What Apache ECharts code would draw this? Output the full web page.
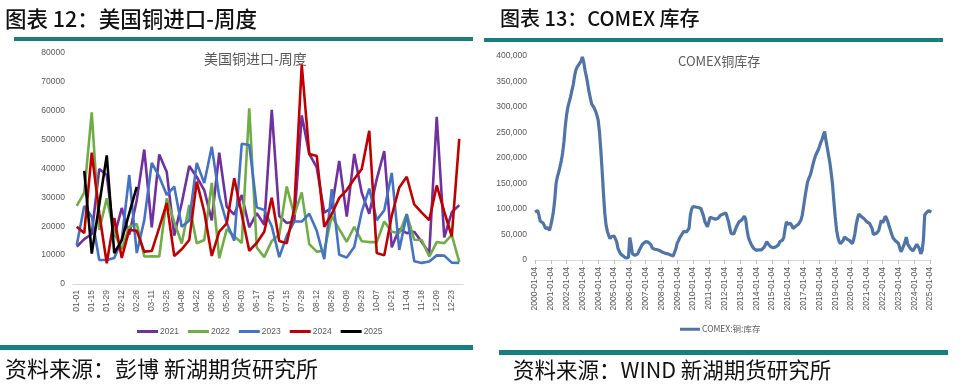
<!DOCTYPE html>
<html>
<head>
<meta charset="utf-8">
<script src="https://cdn.jsdelivr.net/npm/echarts@6/dist/echarts.min.js"></script>
<style>html,body{margin:0;padding:0;background:#fff}#c{width:960px;height:387px}</style>
</head>
<body>
<div id="c"></div>
<script>
// ---- Chart 12: US copper imports, weekly ----
var weeks = ['01-01','01-08','01-15','01-22','01-29','02-05','02-12','02-19','02-26','03-04','03-11','03-18','03-25','04-01','04-08','04-15','04-22','04-29','05-06','05-13','05-20','05-27','06-03','06-10','06-17','06-24','07-01','07-08','07-15','07-22','07-29','08-05','08-12','08-19','08-26','09-02','09-09','09-16','09-23','09-30','10-07','10-14','10-21','10-28','11-04','11-11','11-18','11-25','12-09','12-16','12-23','12-30'];
var y2021 = [12900,15500,17300,39800,37700,16400,26300,17000,29000,46500,19600,44800,38700,16700,28000,40800,37000,32500,22000,45400,26700,24000,30800,19600,24500,20500,60200,23500,21100,21600,58300,45000,40300,24700,26300,42600,23300,45000,31500,24300,36300,46000,12700,19000,17600,18100,14500,10700,57800,16100,24800,27300];
var y2022 = [27000,31600,59400,18700,29600,17600,12000,19800,20800,9500,9600,9500,29600,21500,14000,27300,14100,15200,35000,8900,19000,16500,14200,60800,12600,9300,14900,17000,33700,23900,31700,13800,11200,11500,23500,19000,14600,19800,14800,14500,14500,21600,18100,17600,24200,15300,15200,9500,14500,14100,17000,7600];
var y2023 = [13500,27000,23300,8300,8300,9000,15200,37700,10700,22000,41900,37100,30800,33700,19800,22000,41900,34900,47500,30200,21100,15000,48500,48100,26500,25600,20000,9300,16700,21600,21600,24300,18400,8600,32800,10100,9200,12800,25000,33000,22100,25500,38400,11800,24100,7900,7300,7800,9900,9800,7400,7300];
var y2024 = [19800,17600,45400,24500,7200,22800,9000,18700,18400,11200,11400,19500,28000,9700,12000,15200,35400,25000,9700,18100,21000,36600,24000,11500,14200,18100,29800,14900,14100,26000,75800,45000,44300,19800,24200,29800,32500,36300,39800,53000,10700,9900,23600,33400,37100,27500,24700,22100,34100,25000,16500,50200];
var y2025 = [null,39100,10500,27500,44500,10700,15200,24500,33600];
var yearNames = ['2021','2022','2023','2024','2025'];

// ---- Chart 13: COMEX copper inventory (monthly readings) ----
var comexYears = [];
for (var yr = 2000; yr <= 2025; yr++) comexYears.push(String(yr));
var months = [];
comexYears.forEach(function (yy) {
  for (var m = 1; m <= 12; m++) {
    if (yy === '2025' && m > 2) break;
    months.push(yy + '-' + (m < 10 ? '0' + m : m) + '-04');
  }
});
var comex = [
94000,96000,97000,88000,76000,75000,73000,68000,62000,62000,63000,58000,
68000,80000,95000,118000,150000,163000,172000,183000,195000,210000,232000,262000,
285000,300000,310000,320000,332000,343000,360000,372000,378000,382000,384000,390000,
398000,388000,372000,360000,346000,330000,318000,306000,302000,298000,292000,284000,
274000,250000,215000,175000,130000,92000,68000,56000,48000,42000,46000,48000,
47000,42000,36000,23000,17000,12000,10000,8000,6000,4000,3000,5000,
44000,30000,12000,10000,9000,7000,12000,18000,23000,28000,32000,34000,
36000,36000,35000,33000,30000,24000,22000,21000,21000,20000,19000,18000,
17000,15000,14000,13000,13000,12000,11000,10000,7000,8000,10000,22000,
33000,38000,44000,48000,52000,56000,58000,55000,56000,62000,88000,100000,
105000,104000,104000,103000,103000,102000,101000,98000,86000,75000,70000,65000,
68000,84000,84000,82000,80000,80000,78000,82000,85000,88000,88000,90000,
91000,92000,90000,75000,62000,52000,49000,51000,58000,65000,70000,75000,
76000,78000,78000,86000,80000,60000,45000,38000,32000,27000,23000,21000,
19000,20000,20000,19000,20000,23000,25000,30000,36000,32000,29000,26000,
23000,24000,26000,26000,23000,30000,36000,38000,39000,45000,62000,75000,
70000,68000,72000,68000,62000,64000,66000,67000,70000,72000,78000,88000,
105000,122000,138000,153000,160000,166000,175000,186000,196000,204000,210000,215000,
222000,230000,236000,245000,252000,234000,220000,205000,190000,170000,148000,115000,
85000,60000,45000,36000,32000,34000,38000,45000,42000,41000,40000,38000,
36000,32000,40000,52000,70000,82000,90000,88000,85000,83000,81000,78000,
75000,74000,72000,67000,62000,50000,47000,52000,54000,57000,60000,78000,
73000,78000,86000,82000,75000,66000,58000,50000,43000,40000,37000,35000,
33000,24000,16000,22000,28000,35000,45000,32000,27000,23000,20000,18000,
22000,24000,31000,28000,22000,12000,18000,39000,88000,92000,95000,97000,
98000,94000];

var FONT = 'Liberation Sans';
var CJK = 'Noto Sans CJK SC';
var LBL = '#595959';
var chart = echarts.init(document.getElementById('c'), null, {renderer: 'canvas'});

var colors = ['#7030a0', '#70ad47', '#4472c4', '#c00000', '#000000'];
var leftData = [y2021, y2022, y2023, y2024, y2025];
var series = leftData.map(function (d, k) {
  return {
    name: yearNames[k], type: 'line', xAxisIndex: 0, yAxisIndex: 0,
    data: d, symbol: 'none', connectNulls: false,
    lineStyle: {width: 2.6, color: colors[k]}, itemStyle: {color: colors[k]},
    z: 2 + k
  };
});
series.push({
  name: 'COMEX:铜:库存', type: 'line', xAxisIndex: 1, yAxisIndex: 1,
  data: comex, symbol: 'none',
  lineStyle: {width: 3.2, color: '#4f74a8'}, itemStyle: {color: '#4f74a8'}
});

var teal = '#17807e';
chart.setOption({
  animation: false,
  textStyle: {fontFamily: FONT},
  grid: [
    {left: 73, top: 52.7, width: 390, height: 231.3},
    {left: 535, top: 56, width: 396.3, height: 204}
  ],
  xAxis: [
    {type: 'category', gridIndex: 0, data: weeks, boundaryGap: true,
     axisLine: {lineStyle: {color: '#d9d9d9'}}, axisTick: {show: false},
     axisLabel: {interval: 1, rotate: 90, margin: 6, color: LBL, fontSize: 8.5, fontFamily: FONT}},
    {type: 'category', gridIndex: 1, data: months, boundaryGap: false,
     axisLine: {lineStyle: {color: '#d9d9d9'}},
     axisTick: {show: true, length: 4, lineStyle: {color: '#bfbfbf'},
       interval: function (i, v) { return v.slice(5, 7) === '01'; }},
     axisLabel: {rotate: 90, margin: 7, color: LBL, fontSize: 8.5, fontFamily: FONT,
       interval: function (i, v) { return v.slice(5, 7) === '01'; }}}
  ],
  yAxis: [
    {type: 'value', gridIndex: 0, min: 0, max: 80000, interval: 10000,
     axisLine: {show: false}, axisTick: {show: false}, splitLine: {show: false},
     axisLabel: {margin: 8, color: LBL, fontSize: 8.5, fontFamily: FONT,
       formatter: function (v) { return String(v); }}},
    {type: 'value', gridIndex: 1, min: 0, max: 400000, interval: 50000,
     axisLine: {show: false}, axisTick: {show: false}, splitLine: {show: false},
     axisLabel: {margin: 8, color: LBL, fontSize: 8.5, fontFamily: FONT,
       formatter: function (v) { return v.toLocaleString('en-US'); }}}
  ],
  legend: [
    {data: yearNames, left: 137, top: 327, itemWidth: 21, itemHeight: 3, itemGap: 9, icon: 'rect',
     padding: 0, textStyle: {color: LBL, fontSize: 8.5, fontFamily: FONT, padding: [0, 0, 0, -3]}},
    {data: ['COMEX:铜:库存'], left: 680, top: 325, itemWidth: 20, itemHeight: 3, icon: 'rect',
     padding: 0, textStyle: {color: LBL, fontSize: 8.5, fontFamily: CJK, padding: [0, 0, 0, -3]}}
  ],
  series: series,
  graphic: [
    {type: 'text', left: 5, top: 8, style: {text: '图表 12：美国铜进口-周度', font: '500 21.5px "' + CJK + '"', fill: '#111'}},
    {type: 'text', left: 500, top: 8, style: {text: '图表 13：COMEX 库存', font: '500 20px "' + CJK + '"', fill: '#111'}},
    {type: 'rect', shape: {x: 14, y: 37, width: 459, height: 4}, style: {fill: teal}},
    {type: 'rect', shape: {x: 484, y: 38, width: 459, height: 4}, style: {fill: teal}},
    {type: 'rect', shape: {x: 0, y: 345, width: 473, height: 5}, style: {fill: teal}},
    {type: 'rect', shape: {x: 499, y: 350, width: 449, height: 5}, style: {fill: teal}},
    {type: 'text', left: 204, top: 52, style: {text: '美国铜进口-周度', font: '14px "' + CJK + '"', fill: '#595959'}},
    {type: 'text', left: 678, top: 55, style: {text: 'COMEX铜库存', font: '13px "' + CJK + '"', fill: '#595959'}},
    {type: 'text', left: 5, top: 358, style: {text: '资料来源：彭博 新湖期货研究所', font: '22px "' + CJK + '"', fill: '#111'}},
    {type: 'text', left: 513, top: 359, style: {text: '资料来源：WIND 新湖期货研究所', font: '21.5px "' + CJK + '"', fill: '#111'}}
  ]
});
</script>
</body>
</html>
